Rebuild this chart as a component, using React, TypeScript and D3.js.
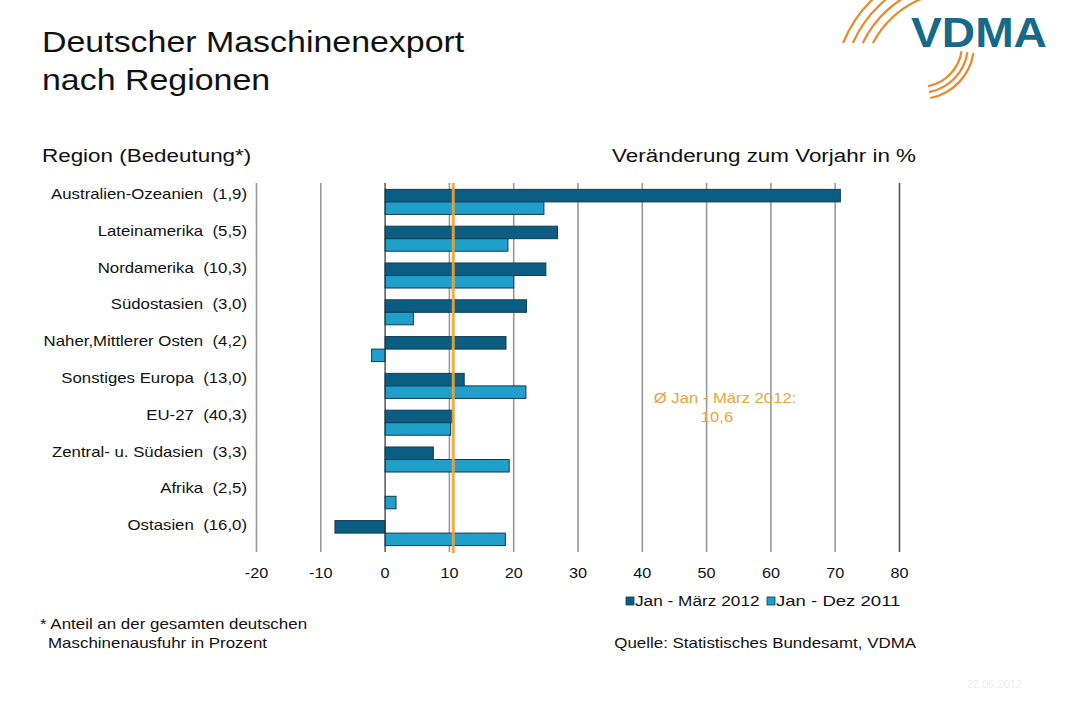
import React from "react";
import * as d3 from "d3";

// Regionen mit Anteil am Maschinenexport (in Klammern)
const regions = [
  "Australien-Ozeanien  (1,9)",
  "Lateinamerika  (5,5)",
  "Nordamerika  (10,3)",
  "Südostasien  (3,0)",
  "Naher,Mittlerer Osten  (4,2)",
  "Sonstiges Europa  (13,0)",
  "EU-27  (40,3)",
  "Zentral- u. Südasien  (3,3)",
  "Afrika  (2,5)",
  "Ostasien  (16,0)",
];

// Veränderung zum Vorjahr in %
const q1_2012 = [70.8, 26.8, 25.0, 22.0, 18.8, 12.3, 10.5, 7.5, 0, -7.8];
const year2011 = [24.7, 19.1, 20.0, 4.4, -2.1, 21.9, 10.2, 19.3, 1.7, 18.7];

const average = 10.6;
const xTicks = [-20, -10, 0, 10, 20, 30, 40, 50, 60, 70, 80];

const seriesNames = ["Jan - März 2012", "Jan - Dez 2011"];
const colors = ["#0b5e82", "#1f9fca"];
const orange = "#eea437";
const logoOrange = "#e8892b";

const font = "'Liberation Sans', Arial, sans-serif";

// Text mit leicht gedehnter Laufweite
function SText(props: {
  x: number;
  y: number;
  sx?: number;
  size: number;
  fill?: string;
  anchor?: string;
  children: React.ReactNode;
  weight?: string;
}) {
  const { x, y, sx = 1.18, size, fill = "#111", anchor = "start", children, weight } = props;
  return (
    <text
      transform={`translate(${x},${y}) scale(${sx},1)`}
      fontSize={size}
      fill={fill}
      textAnchor={anchor}
      fontWeight={weight}
      style={{ whiteSpace: "pre" }}
    >
      {children}
    </text>
  );
}

export default function App() {
  const W = 1080;
  const H = 720;

  const x = d3.scaleLinear().domain([-20, 80]).range([256.5, 899.5]);
  const y = d3
    .scaleBand<string>()
    .domain(regions)
    .range([183.5, 551.5])
    .paddingInner(0.32)
    .paddingOuter(0.16);
  const sub = d3
    .scaleBand<number>()
    .domain([0, 1])
    .range([0, y.bandwidth()]);

  const series = [q1_2012, year2011];

  // VDMA-Logo: zwei Gruppen konzentrischer Bögen
  const upperRadii = [99, 108, 117, 126];
  const upperArcs = upperRadii.map((r) =>
    d3.arc()({
      innerRadius: r - 1.1,
      outerRadius: r + 1.1,
      startAngle: -Math.acos(47 / r),
      endAngle: -0.35,
    } as any)
  );
  const lowerArcs = [42, 48, 54].map((r) =>
    d3.arc()({
      innerRadius: r - 1.1,
      outerRadius: r + 1.1,
      startAngle: 1.72,
      endAngle: 2.95,
    } as any)
  );

  const legendX = [626, 767];
  const legendSx = [1.19, 1.28];

  return (
    <svg
      width={W}
      height={H}
      style={{ position: "absolute", left: 0, top: 0, background: "#fff" }}
      fontFamily={font}
    >
      <rect width={W} height={H} fill="#fff" />

      {/* Titel */}
      <SText x={42} y={52} size={29} sx={1.17}>
        Deutscher Maschinenexport
      </SText>
      <SText x={42} y={90} size={29} sx={1.17}>
        nach Regionen
      </SText>

      {/* Logo */}
      <g transform="translate(960,90)">
        {upperArcs.map((d, i) => (
          <path key={"u" + i} d={d as string} fill={logoOrange} />
        ))}
      </g>
      <g transform="translate(920,45)">
        {lowerArcs.map((d, i) => (
          <path key={"l" + i} d={d as string} fill={logoOrange} />
        ))}
      </g>
      <SText x={911} y={47} size={42} sx={1.1} weight="bold" fill="#17698b">
        VDMA
      </SText>

      {/* Achsenüberschriften */}
      <SText x={42} y={162} size={19}>
        Region (Bedeutung*)
      </SText>
      <SText x={916} y={162} size={19} anchor="end">
        Veränderung zum Vorjahr in %
      </SText>

      {/* Gitterlinien */}
      {xTicks.map((t) => (
        <line
          key={t}
          x1={x(t)}
          x2={x(t)}
          y1={183}
          y2={552}
          stroke={t === 80 ? "#555" : "#999"}
          strokeWidth={t === 0 ? 1 : 1.6}
        />
      ))}

      {/* Balken */}
      {regions.map((r, i) => (
        <g key={r} transform={`translate(0,${y(r)})`}>
          {series.map((vals, s) =>
            vals[i] === 0 ? null : (
              <rect
                key={s}
                x={x(Math.min(0, vals[i]))}
                y={sub(s)}
                width={Math.abs(x(vals[i]) - x(0))}
                height={sub.bandwidth()}
                fill={colors[s]}
                stroke="#0b3d55"
                strokeWidth={1}
              />
            )
          )}
        </g>
      ))}

      {/* Nulllinie */}
      <line x1={x(0)} x2={x(0)} y1={183} y2={552} stroke="#333" strokeWidth={1} />

      {/* Durchschnitt */}
      <line
        x1={x(average)}
        x2={x(average)}
        y1={183}
        y2={553}
        stroke={orange}
        strokeWidth={3}
        opacity={0.9}
      />
      <SText x={725} y={403} size={14.5} sx={1.15} fill={orange} anchor="middle">
        Ø Jan - März 2012:
      </SText>
      <SText x={717} y={422} size={14.5} sx={1.15} fill={orange} anchor="middle">
        {String(average).replace(".", ",")}
      </SText>

      {/* Kategorien */}
      {regions.map((r) => (
        <SText key={r} x={247} y={(y(r) as number) + y.bandwidth() / 2 - 3} size={14} sx={1.2} anchor="end">
          {r}
        </SText>
      ))}

      {/* x-Achse */}
      {xTicks.map((t) => (
        <SText key={t} x={x(t)} y={578} size={14.5} sx={1.12} anchor="middle">
          {t}
        </SText>
      ))}

      {/* Legende */}
      {seriesNames.map((n, i) => (
        <g key={n} transform={`translate(${legendX[i]},597)`}>
          <rect width={8} height={8} fill={colors[i]} stroke="#0b3d55" strokeWidth={0.8} />
          <SText x={9} y={9} size={14.5} sx={legendSx[i]}>
            {n}
          </SText>
        </g>
      ))}

      {/* Fußnoten */}
      <SText x={40} y={629} size={14} sx={1.21}>
        * Anteil an der gesamten deutschen
      </SText>
      <SText x={48} y={648} size={14} sx={1.21}>
        Maschinenausfuhr in Prozent
      </SText>
      <SText x={916} y={648} size={14} sx={1.21} anchor="end">
        Quelle: Statistisches Bundesamt, VDMA
      </SText>
      <text x={1022} y={688} fontSize={11} fill="#ececec" textAnchor="end">
        22.05.2012
      </text>
    </svg>
  );
}
